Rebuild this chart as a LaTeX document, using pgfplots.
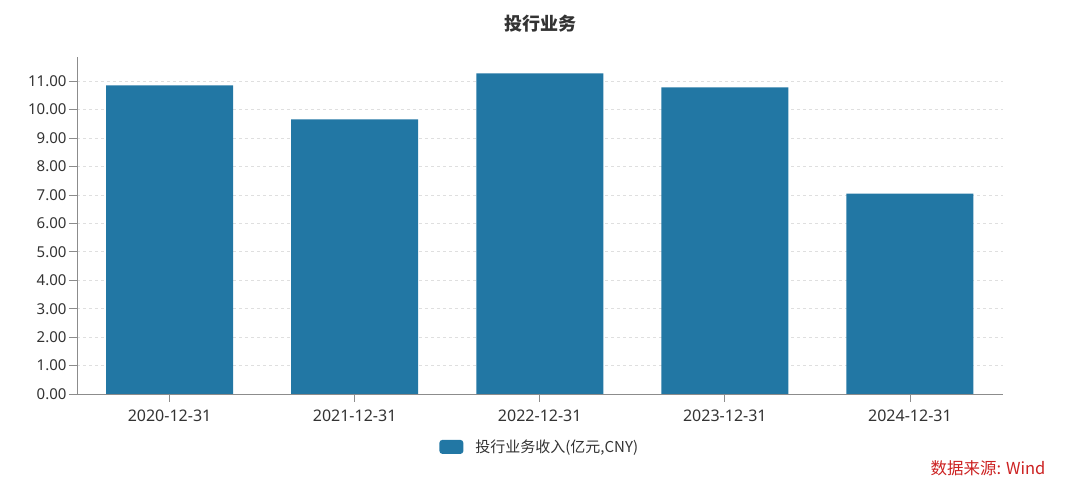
\documentclass[border=0pt]{standalone}
\usepackage{fontspec}
\setmainfont{Noto Sans CJK SC}
\newfontfamily\latinfont{Noto Sans}
\usepackage{pgfplots}
\pgfplotsset{compat=1.18}
\definecolor{barblue}{RGB}{34,119,164}
\definecolor{axgray}{RGB}{140,140,140}
\definecolor{txtgray}{RGB}{51,51,51}
\definecolor{srcred}{RGB}{204,34,34}
\begin{document}
\begin{tikzpicture}[x=1pt,y=1pt]
\path[use as bounding box] (0,0) rectangle (1080,489);
\begin{axis}[
  at={(77pt,95pt)}, anchor=south west,
  scale only axis, width=925.5pt, height=337pt,
  xmin=-0.5, xmax=4.5, ymin=0, ymax=11.85,
  axis x line*=bottom, axis y line*=left,
  axis line style={axgray, line width=0.8pt, -},
  xtick=data,
  xticklabels={2020-12-31,2021-12-31,2022-12-31,2023-12-31,2024-12-31},
  ytick={0,1,...,11},
  /pgf/number format/fixed, /pgf/number format/fixed zerofill, /pgf/number format/precision=2,
  /pgf/number format/assume math mode=true,
  xticklabel style={font=\latinfont\fontsize{16}{18}\selectfont, text=txtgray, yshift=-4pt},
  yticklabel style={font=\latinfont\fontsize{15}{17}\selectfont, text=txtgray, xshift=1pt},
  tick style={axgray, line width=0.8pt},
  tick align=outside, major tick length=8pt,
  ymajorgrids, grid style={dashed, gray!25, line width=0.7pt},
  ybar, bar width=127pt,
  legend style={at={(0.500,-0.157)}, anchor=center, draw=none, fill=none,
    font=\fontsize{15}{17}\selectfont, text=txtgray},
  legend image code/.code={\fill[barblue, rounded corners=3pt] (0pt,-7pt) rectangle (24pt,7pt);},
]
\addplot[fill=barblue, draw=none] coordinates {(0,10.85) (1,9.66) (2,11.27) (3,10.78) (4,7.05)};
\addlegendentry{\hspace{10pt}投行业务收入(亿元,CNY)}
\end{axis}
\node[font=\bfseries\fontsize{18}{20}\selectfont, text=txtgray] at (540,465) {投行业务};
\node[anchor=east, font=\fontsize{16.5}{18}\selectfont, text=srcred] at (1049,21) {数据来源: Wind};
\end{tikzpicture}
\end{document}
